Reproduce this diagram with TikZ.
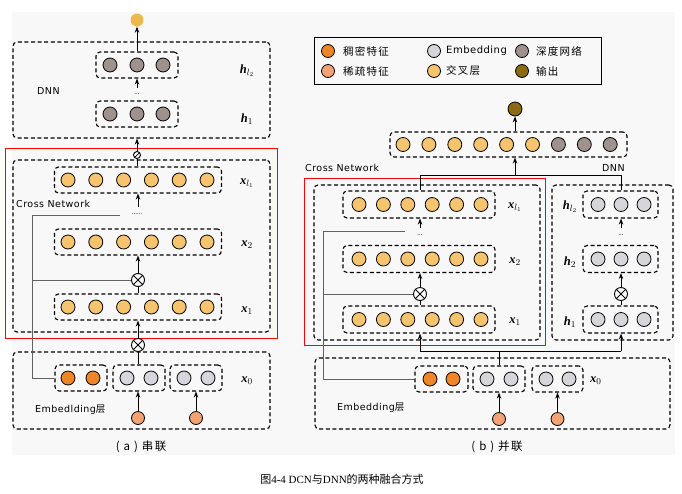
\documentclass[tikz,border=0pt]{standalone}
\usepackage{fontspec}
\usepackage{bm}
\setmainfont{Liberation Serif}
\newfontfamily\hand[LetterSpace=5]{DejaVu Sans}
\newfontfamily\cjk{Noto Sans CJK SC}
\newfontfamily\cjkl[LetterSpace=12]{Noto Sans CJK SC}
\usetikzlibrary{arrows.meta}
\definecolor{crossY}{HTML}{F6C46E}
\definecolor{embG}{HTML}{D5D5DA}
\definecolor{deep}{HTML}{9F918B}
\definecolor{dense}{HTML}{EE8527}
\definecolor{sparse}{HTML}{F2A273}
\definecolor{outGold}{HTML}{EDB84A}
\definecolor{outBrown}{HTML}{8A6A13}
\definecolor{bgc}{HTML}{F8F8F8}
\newcommand{\vx}{\textbf{\textit{x}}}
\newcommand{\vh}{\textbf{\textit{h}}}
\begin{document}
\begin{tikzpicture}[x=1pt,y=-1pt,
  dbox/.style={draw, line width=1.1pt, dash pattern=on 4pt off 2.6pt, rounded corners=4pt, inner sep=0pt},
  neu/.style={circle, draw, line width=0.8pt, minimum size=14pt, inner sep=0pt},
  lneu/.style={circle, draw, line width=0.8pt, minimum size=13pt, inner sep=0pt},
  arr/.style={line width=0.9pt, -{Stealth[length=6pt,width=4.5pt]}},
  cline/.style={line width=0.9pt, draw=black},
  gline/.style={line width=1pt, draw=black!62},
  otim/.style={circle, draw, line width=0.9pt, minimum size=13pt, inner sep=0pt, fill=white},
  lbl/.style={inner sep=0pt, font=\fontsize{12.5}{14}\selectfont},
  hlbl/.style={inner sep=0pt, anchor=west, font=\hand\fontsize{9.5}{11}\selectfont},
  clbl/.style={inner sep=0pt, anchor=west, font=\cjkl\fontsize{10.5}{12}\selectfont},
  dotl/.style={inner sep=0pt, font=\fontsize{7}{7}\selectfont}
]
\useasboundingbox (0,0) rectangle (682,493);
\fill[bgc] (12,12) rectangle (675,455);

%================ (a) =================
% DNN
\node[dbox, minimum width=257pt, minimum height=96pt] (dnnA) at (141.5,90) {};
\node[dbox, minimum width=82pt, minimum height=26pt] (hltA) at (137,65) {};
\foreach \i/\x in {0/110,1/137,2/163} \node[neu, fill=deep] (hltA\i) at (\x,65) {};
\node[dbox, minimum width=82pt, minimum height=26pt] (honeA) at (137,114) {};
\foreach \i/\x in {0/110,1/137,2/163} \node[neu, fill=deep] (honeA\i) at (\x,114) {};
\node[circle, fill=outGold, minimum size=13pt, inner sep=0pt] (outA) at (137,20) {};
\draw[arr] (hltA.north) -- (outA.south);
\coordinate (dA1) at (137,88);
\draw[arr] (dA1) -- (dA1 |- hltA.south);
\node[dotl] (dotsA1) at (137,94) {...};
\node[hlbl] (dnnlabA) at (37,91) {DNN};
\node[lbl] (hltlabA) at (247,71) {\vh$_{l_2}$};
\node[lbl] (honelabA) at (247,119) {\vh$_1$};

% Cross network
\node[draw=red, line width=0.8pt, minimum width=272pt, minimum height=190pt, inner sep=0pt] (redA) at (141,243) {};
\node[dbox, minimum width=257pt, minimum height=172pt] (crossA) at (141.5,246) {};
\node[dbox, minimum width=167pt, minimum height=26pt] (xlA) at (138,180) {};
\foreach \i in {0,...,5} \node[neu, fill=crossY] (xlA\i) at ({68+27.8*\i},180) {};
\node[dbox, minimum width=167pt, minimum height=26pt] (xtA) at (138,242) {};
\foreach \i in {0,...,5} \node[neu, fill=crossY] (xtA\i) at ({68+27.8*\i},242) {};
\node[dbox, minimum width=167pt, minimum height=26pt] (xoA) at (138,307) {};
\foreach \i in {0,...,5} \node[neu, fill=crossY] (xoA\i) at ({68+27.8*\i},307) {};
\node[lbl] (xllabA) at (247,183) {\vx$_{l_1}$};
\node[lbl] (xtlabA) at (247,245) {\vx$_2$};
\node[lbl] (xolabA) at (247,311) {\vx$_1$};
\node[hlbl] (cnlabA) at (16,204) {Cross Network};

\node[circle, draw, line width=0.9pt, minimum size=7pt, inner sep=0pt, fill=white] (catA) at (137,155) {};
\draw[cline] (catA |- xlA.north) -- (catA.south);
\draw[line width=0.7pt] (catA.north east) -- (catA.south west);
\draw[arr] (catA.north) -- (catA |- dnnA.south);

\coordinate (cA) at (138,207);
\draw[arr] (cA) -- (cA |- xlA.south);
\node[dotl] (dotsA2) at (137,214) {......};
\node[otim] (o1A) at (138,280) {};
\draw[line width=0.8pt] (o1A.north west) -- (o1A.south east) (o1A.north east) -- (o1A.south west);
\node[otim] (o0A) at (138,345) {};
\draw[line width=0.8pt] (o0A.north west) -- (o0A.south east) (o0A.north east) -- (o0A.south west);
\draw[arr] (o1A.north) -- (o1A |- xtA.south);
\draw[cline] (o1A |- xoA.north) -- (o1A.south);
\draw[arr] (o0A.north) -- (o0A |- xoA.south);

% Embedding
\node[dbox, minimum width=257pt, minimum height=77pt] (embA) at (141.5,390.5) {};
\node[dbox, minimum width=52pt, minimum height=26pt] (denseA) at (81,378) {};
\foreach \i/\x in {0/68,1/93} \node[neu, fill=dense] (denseA\i) at (\x,378) {};
\node[dbox, minimum width=52pt, minimum height=26pt] (eoA) at (139,378) {};
\foreach \i/\x in {0/127,1/151} \node[neu, fill=embG] (eoA\i) at (\x,378) {};
\node[dbox, minimum width=52pt, minimum height=26pt] (etA) at (196,378) {};
\foreach \i/\x in {0/184,1/208} \node[neu, fill=embG] (etA\i) at (\x,378) {};
\draw[cline] (o0A |- eoA.north) -- (o0A.south);
\node[neu, minimum size=13pt, fill=sparse] (sA1) at (138,418) {};
\node[neu, minimum size=13pt, fill=sparse] (sA2) at (196,418) {};
\draw[arr] (sA1.north) -- (sA1 |- eoA.south);
\draw[arr] (sA2.north) -- (sA2 |- etA.south);
\node[lbl] (xzlabA) at (247,381) {\vx$_0$};
\node[hlbl] (emblabA) at (35,410) {Embedlding{\cjk 层}};

\coordinate (gA1) at (32,215);
\coordinate (gA2) at (120,215);
\draw[gline] (denseA.west) -| (gA1) -- (gA2);
\draw[gline] (o1A.west) -- (o1A.west -| gA1);

\node[inner sep=0pt, font=\cjkl\fontsize{11.5}{13}\selectfont] (capA) at (141,447) {( a ) 串联};

%================ (b) =================
% legend
\node[draw, line width=1pt, minimum width=287pt, minimum height=47pt, inner sep=0pt] (leg) at (457.5,60.5) {};
\node[lneu, fill=dense] (lg1) at (328,51) {};
\node[clbl] (lgt1) at (343,51) {稠密特征};
\node[lneu, fill=sparse] (lg2) at (328,71) {};
\node[clbl] (lgt2) at (343,71) {稀疏特征};
\node[lneu, fill=embG] (lg3) at (434,51) {};
\node[hlbl, font=\hand\fontsize{10}{12}\selectfont] (lgt3) at (446,51) {Embedding};
\node[lneu, fill=crossY] (lg4) at (434,71) {};
\node[clbl] (lgt4) at (446,71) {交叉层};
\node[lneu, fill=deep] (lg5) at (522,51) {};
\node[clbl] (lgt5) at (536,51) {深度网络};
\node[lneu, fill=outBrown] (lg6) at (522,71) {};
\node[clbl] (lgt6) at (536,71) {输出};

% output and combination
\node[neu, fill=outBrown] (outB) at (515,109) {};
\node[dbox, minimum width=237pt, minimum height=25pt] (combB) at (508.5,144.5) {};
\foreach \i in {0,...,5} \node[neu, fill=crossY] (combB\i) at ({403+25.9*\i},144.5) {};
\foreach \i in {6,7,8} \node[neu, fill=deep] (combB\i) at ({403+25.9*\i},144.5) {};
\draw[arr] (combB.north -| outB) -- (outB.south);
\coordinate (tB) at (515,175);
\draw[arr] (tB) -- (tB |- combB.south);
\node[hlbl] (cnlabB) at (305,168) {Cross Network};
\node[hlbl] (dnnlabB) at (602,168) {DNN};

% cross network
\node[draw=red, line width=0.8pt, minimum width=241pt, minimum height=167pt, inner sep=0pt] (redB) at (424.5,261.5) {};
\node[dbox, minimum width=226pt, minimum height=155pt] (crossB) at (427,262.5) {};
\node[dbox, minimum width=152pt, minimum height=27pt] (xlB) at (419,204.5) {};
\foreach \i in {0,...,5} \node[neu, fill=crossY] (xlB\i) at ({359+24.4*\i},204.5) {};
\node[dbox, minimum width=152pt, minimum height=27pt] (xtB) at (419,259) {};
\foreach \i in {0,...,5} \node[neu, fill=crossY] (xtB\i) at ({359+24.4*\i},259) {};
\node[dbox, minimum width=152pt, minimum height=27pt] (xoB) at (419,319.5) {};
\foreach \i in {0,...,5} \node[neu, fill=crossY] (xoB\i) at ({359+24.4*\i},319.5) {};
\node[lbl] (xllabB) at (515,207) {\vx$_{l_1}$};
\node[lbl] (xtlabB) at (515,262) {\vx$_2$};
\node[lbl] (xolabB) at (515,322) {\vx$_1$};
\coordinate (cB) at (420,228);
\draw[arr] (cB) -- (cB |- xlB.south);
\node[dotl] (dotsB1) at (420,235) {...};
\node[otim] (o1B) at (420,294) {};
\draw[line width=0.8pt] (o1B.north west) -- (o1B.south east) (o1B.north east) -- (o1B.south west);
\draw[arr] (o1B.north) -- (o1B |- xtB.south);
\draw[cline] (o1B |- xoB.north) -- (o1B.south);

% DNN
\node[dbox, minimum width=121pt, minimum height=155pt] (dnnB) at (612.5,262.5) {};
\node[dbox, minimum width=75pt, minimum height=27pt] (hlB) at (620.5,204.5) {};
\foreach \i/\x in {0/598,1/621,2/644} \node[neu, fill=embG] (hlB\i) at (\x,204.5) {};
\node[dbox, minimum width=75pt, minimum height=27pt] (htB) at (620.5,259) {};
\foreach \i/\x in {0/598,1/621,2/644} \node[neu, fill=embG] (htB\i) at (\x,259) {};
\node[dbox, minimum width=75pt, minimum height=27pt] (hoB) at (620.5,319.5) {};
\foreach \i/\x in {0/598,1/621,2/644} \node[neu, fill=embG] (hoB\i) at (\x,319.5) {};
\node[lbl] (hllabB) at (570,207) {\vh$_{l_2}$};
\node[lbl] (htlabB) at (570,262) {\vh$_2$};
\node[lbl] (holabB) at (570,322) {\vh$_1$};
\coordinate (cB2) at (621,228);
\draw[arr] (cB2) -- (cB2 |- hlB.south);
\node[dotl] (dotsB2) at (621,235) {...};
\node[otim] (o2B) at (621,294) {};
\draw[line width=0.8pt] (o2B.north west) -- (o2B.south east) (o2B.north east) -- (o2B.south west);
\draw[arr] (o2B.north) -- (o2B |- htB.south);
\draw[cline] (o2B |- hoB.north) -- (o2B.south);

% top join
\coordinate (jL) at (420,175);
\coordinate (jR) at (621,175);
\draw[cline] (jL |- xlB.north) -- (jL) -- (jR) -- (jR |- hlB.north);

% embedding
\node[dbox, minimum width=355pt, minimum height=71pt] (embB) at (492.5,393.5) {};
\node[dbox, minimum width=53pt, minimum height=26pt] (denseB) at (441.5,379) {};
\foreach \i/\x in {0/430,1/453} \node[neu, fill=dense] (denseB\i) at (\x,379) {};
\node[dbox, minimum width=52pt, minimum height=26pt] (eoB) at (499,379) {};
\foreach \i/\x in {0/487,1/511} \node[neu, fill=embG] (eoB\i) at (\x,379) {};
\node[dbox, minimum width=51pt, minimum height=26pt] (etB) at (557.5,379) {};
\foreach \i/\x in {0/546,1/569} \node[neu, fill=embG] (etB\i) at (\x,379) {};
\node[neu, minimum size=13pt, fill=sparse] (sB1) at (499,419) {};
\node[neu, minimum size=13pt, fill=sparse] (sB2) at (557.5,419) {};
\draw[arr] (sB1.north) -- (sB1 |- eoB.south);
\draw[arr] (sB2.north) -- (sB2 |- etB.south);
\node[lbl, anchor=west] (xzlabB) at (590,381) {\vx$_0$};
\node[hlbl] (emblabB) at (337,408) {Embedding{\cjk 层}};

% bottom join
\coordinate (bL) at (420,351);
\coordinate (bR) at (621,351);
\coordinate (bM) at (499,351);
\draw[cline] (bL) -- (bR);
\draw[cline] (bM) -- (bM |- eoB.north);
\draw[arr] (bL) -- (bL |- xoB.south);
\draw[arr] (bR) -- (bR |- hoB.south);

% gray residual lines
\coordinate (gB1) at (323,231);
\coordinate (gB2) at (405,231);
\draw[gline] (denseB.west) -| (gB1) -- (gB2);
\draw[gline] (o1B.west) -- (o1B.west -| gB1);

\node[inner sep=0pt, font=\cjkl\fontsize{11.5}{13}\selectfont] (capB) at (497,447) {( b ) 并联};

% caption
\node[inner sep=0pt, font=\fontsize{11}{13}\selectfont] (cap) at (342,479) {{\cjk 图}4-4 DCN{\cjk 与}DNN{\cjk 的两种融合方式}};
\end{tikzpicture}
\end{document}
